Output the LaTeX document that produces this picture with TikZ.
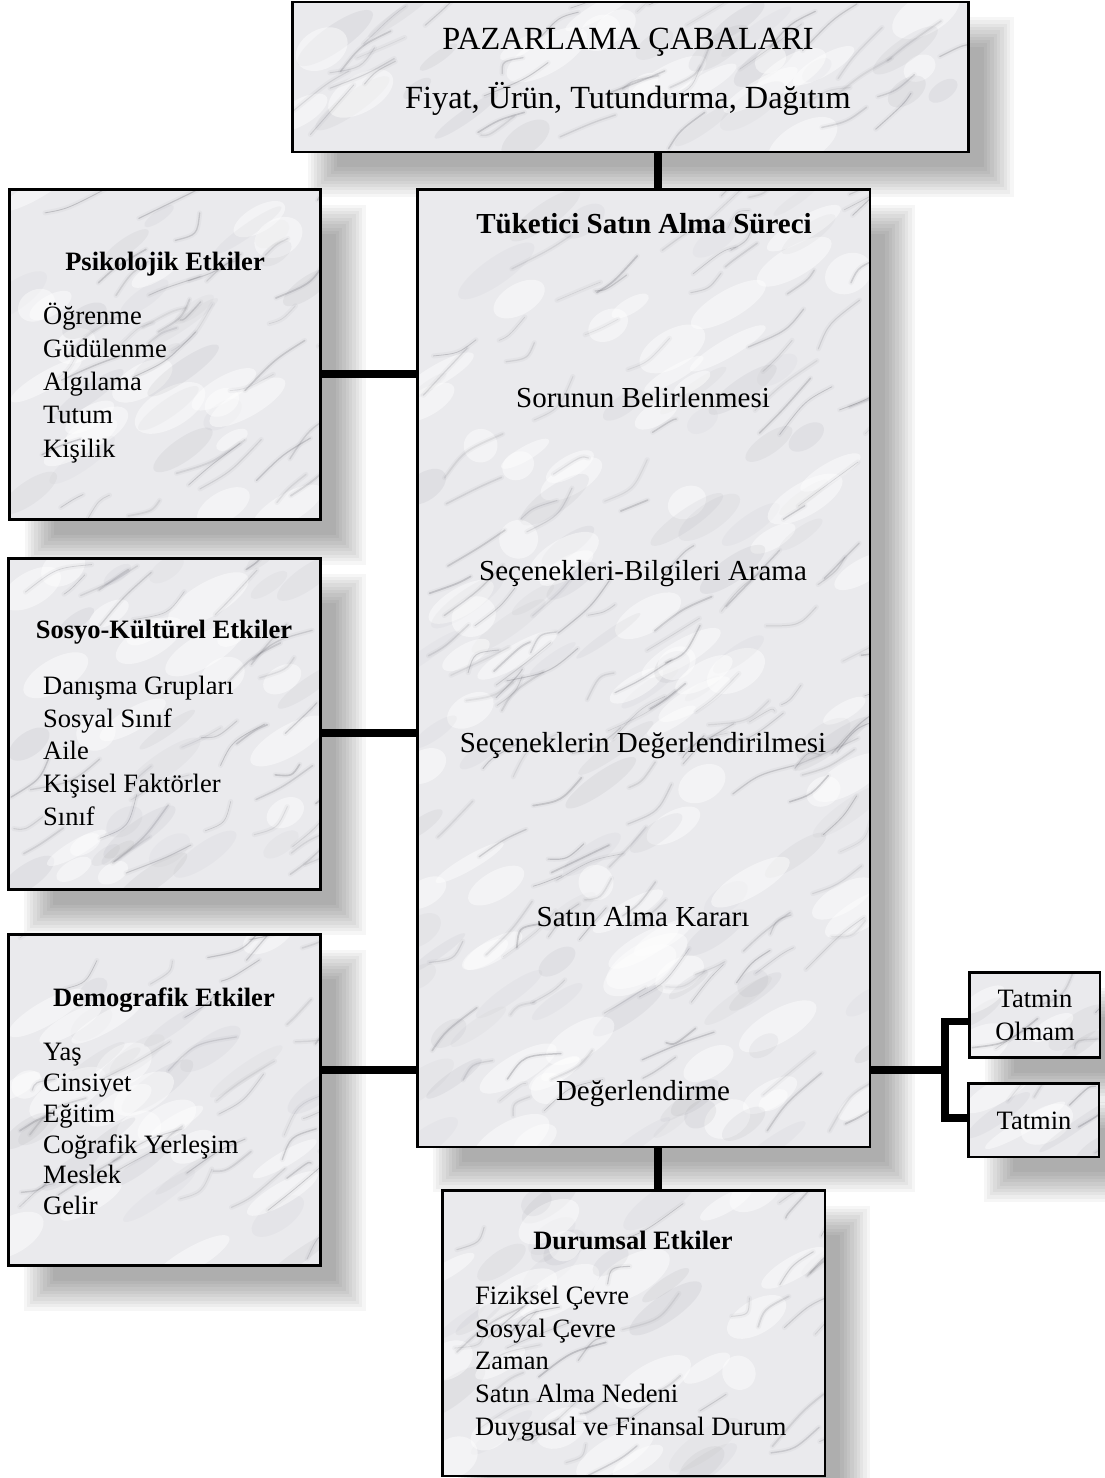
\documentclass[tikz,border=0pt]{standalone}
\usepackage{fontspec}
\setmainfont{Liberation Serif}
\usetikzlibrary{backgrounds,calc}

\definecolor{marblebase}{HTML}{EAEAED}
\definecolor{veingray}{HTML}{6A6A72}

% Marble texture: soft cloudy patches and thin diagonal veins inside a box
\newcommand\marbleveins[1]{%
  \pgfmathsetseed{#1}%
  \path let \p1=(path picture bounding box.south west),
            \p2=(path picture bounding box.north east) in
    \pgfextra{\pgfmathparse{\x1}\xdef\mxa{\pgfmathresult}%
              \pgfmathparse{\y1}\xdef\mya{\pgfmathresult}%
              \pgfmathparse{\x2-\x1}\xdef\mw{\pgfmathresult}%
              \pgfmathparse{\y2-\y1}\xdef\mh{\pgfmathresult}};
  \pgfmathtruncatemacro\nblot{(\mw/100)*(\mh/60)+2}%
  \foreach \k in {1,...,\nblot}{%
    \pgfmathsetmacro\sx{\mxa+rnd*\mw}%
    \pgfmathsetmacro\sy{\mya+rnd*\mh}%
    \pgfmathsetmacro\rx{16+rnd*30}%
    \pgfmathsetmacro\ry{5+rnd*9}%
    \pgfmathsetmacro\op{0.03+rnd*0.05}%
    \fill[veingray, opacity=\op]
      (\sx pt,\sy pt) ellipse [x radius=\rx pt, y radius=\ry pt, rotate=35];
    \pgfmathsetmacro\wx{\mxa+rnd*\mw}%
    \pgfmathsetmacro\wy{\mya+rnd*\mh}%
    \fill[white, opacity=0.45]
      (\wx pt,\wy pt) ellipse [x radius=\rx pt, y radius=1.4*\ry pt, rotate=30];
  }%
  \pgfmathtruncatemacro\nvein{(\mw/100)*(\mh/30)+2}%
  \foreach \k in {1,...,\nvein}{%
    \pgfmathsetmacro\sx{\mxa+rnd*\mw}%
    \pgfmathsetmacro\sy{\mya+rnd*\mh}%
    \pgfmathsetmacro\ang{20+rnd*30}%
    \pgfmathsetmacro\len{25+rnd*55}%
    \pgfmathsetmacro\ex{\sx+\len*cos(\ang)}%
    \pgfmathsetmacro\ey{\sy+\len*sin(\ang)}%
    \pgfmathsetmacro\cx{(\sx+\ex)/2+(rnd-0.5)*22}%
    \pgfmathsetmacro\cy{(\sy+\ey)/2+(rnd-0.5)*22}%
    \pgfmathsetmacro\lw{0.6+rnd*1.2}%
    \pgfmathsetmacro\op{0.10+rnd*0.22}%
    \draw[veingray, line width=5pt, opacity=0.05, line cap=round]
      (\sx pt,\sy pt) .. controls (\cx pt,\cy pt) .. (\ex pt,\ey pt);
    \draw[veingray, line width=\lw pt, opacity=\op, line cap=round]
      (\sx pt,\sy pt) .. controls (\cx pt,\cy pt) .. (\ex pt,\ey pt);
  }%
}

% Soft drop shadow below and right of a box
\newcommand\softshadow[1]{%
  \foreach \s in {0,...,9}{%
    \pgfmathsetmacro\shee{15-\s*3.3}%
    \pgfmathsetmacro\shax{30-\shee}\pgfmathsetmacro\shay{-30-\shee}%
    \pgfmathsetmacro\shbx{30+\shee}\pgfmathsetmacro\shby{-30+\shee}%
    \fill[black, opacity=0.036]
      ([xshift=\shax pt, yshift=\shay pt]#1.south west) rectangle
      ([xshift=\shbx pt, yshift=\shby pt]#1.north east);
  }%
}

\tikzset{
  marblebox/.style={draw=black, line width=2.8pt, fill=marblebase,
    inner sep=0pt, outer sep=0pt, anchor=north west,
    path picture={\marbleveins{#1}}},
  conn/.style={line width=7.5pt, line join=miter},
  boxtitle/.style={font=\bfseries\fontsize{26.5}{30}\selectfont, anchor=mid, inner sep=0pt},
  item/.style={font=\fontsize{26.5}{30}\selectfont, anchor=mid west, inner sep=0pt},
  stage/.style={font=\fontsize{29}{33}\selectfont, anchor=mid, inner sep=0pt},
  stagetitle/.style={font=\bfseries\fontsize{29}{33}\selectfont, anchor=mid, inner sep=0pt},
  headline/.style={font=\fontsize{32.3}{36}\selectfont, anchor=mid, inner sep=0pt},
  small/.style={font=\fontsize{26.5}{30}\selectfont, anchor=mid, inner sep=0pt},
}

\begin{document}
\begin{tikzpicture}[x=1pt, y=-1pt]
\useasboundingbox (0,0) rectangle (1105,1478);

% ---- boxes ----
\node[marblebox=3, minimum width=676pt, minimum height=150pt] (top) at (292.5,2) {};
\node[marblebox=5, minimum width=311pt, minimum height=330pt] (psik) at (9.5,189.5) {};
\node[marblebox=7, minimum width=312pt, minimum height=331pt] (sosyo) at (8.5,558.5) {};
\node[marblebox=9, minimum width=312pt, minimum height=331pt] (demog) at (8.5,934.5) {};
\node[marblebox=11, minimum width=452.5pt, minimum height=957.5pt] (main) at (417.5,189.5) {};
\node[marblebox=13, minimum width=382.5pt, minimum height=285.5pt] (durum) at (442.5,1190.5) {};
\node[marblebox=17, minimum width=130.5pt, minimum height=85pt] (tatA) at (969.5,972.5) {};
\node[marblebox=19, minimum width=130.5pt, minimum height=73.5pt] (tatB) at (968.5,1083.5) {};

% ---- texts ----
\node[headline] (topT1) at (628,47) {PAZARLAMA ÇABALARI};
\node[headline] (topT2) at (628,106) {Fiyat, Ürün, Tutundurma, Dağıtım};

\node[boxtitle] (psikT) at (165,268) {Psikolojik Etkiler};
\foreach \t [count=\i] in {Öğrenme, Güdülenme, Algılama, Tutum, Kişilik}
  \node[item] (psik-\i) at (43,{322+(\i-1)*33.2}) {\t};

\node[boxtitle] (sosyoT) at (164,636) {Sosyo-Kültürel Etkiler};
\foreach \t [count=\i] in {Danışma Grupları, Sosyal Sınıf, Aile, Kişisel Faktörler, Sınıf}
  \node[item] (sosyo-\i) at (43,{692+(\i-1)*32.8}) {\t};

\node[boxtitle] (demogT) at (164,1004) {Demografik Etkiler};
\foreach \t [count=\i] in {Yaş, Cinsiyet, Eğitim, Coğrafik Yerleşim, Meslek, Gelir}
  \node[item] (demog-\i) at (43,{1058+(\i-1)*30.9}) {\t};

\node[stagetitle] (mainT) at (644,231) {Tüketici Satın Alma Süreci};
\node[stage] (st1) at (643,405) {Sorunun Belirlenmesi};
\node[stage] (st2) at (643,578) {Seçenekleri-Bilgileri Arama};
\node[stage] (st3) at (643,750) {Seçeneklerin Değerlendirilmesi};
\node[stage] (st4) at (643,924) {Satın Alma Kararı};
\node[stage] (st5) at (643,1098) {Değerlendirme};

\node[boxtitle] (durumT) at (633,1247) {Durumsal Etkiler};
\foreach \t [count=\i] in {Fiziksel Çevre, Sosyal Çevre, Zaman, Satın Alma Nedeni, Duygusal ve Finansal Durum}
  \node[item] (durum-\i) at (475,{1302+(\i-1)*32.8}) {\t};

\node[small] (tatA1) at (1035,1005) {Tatmin};
\node[small] (tatA2) at (1035,1038) {Olmam};
\node[small] (tatB1) at (1034,1127) {Tatmin};

% ---- connectors ----
\coordinate (vx) at (658,0);
\coordinate (h1) at (0,374);
\coordinate (h2) at (0,733);
\coordinate (h3) at (0,1070);
\coordinate (fork) at (945,1070);
\coordinate (ya) at (0,1021.5);
\coordinate (yb) at (0,1118);

\draw[conn] (top.south -| vx) -- (main.north -| vx);
\draw[conn] (main.south -| vx) -- (durum.north -| vx);
\draw[conn] (psik.east |- h1) -- (main.west |- h1);
\draw[conn] (sosyo.east |- h2) -- (main.west |- h2);
\draw[conn] (demog.east |- h3) -- (main.west |- h3);
\draw[conn] (main.east |- fork) -- (fork);
\draw[conn] (tatA.west |- ya) -| (fork |- yb) -- (tatB.west |- yb);

% ---- page and shadows ----
\begin{scope}[on background layer]
  \fill[white] (0,0) rectangle (1105,1478);
  \foreach \n in {top,psik,sosyo,demog,main,durum,tatA,tatB}
    \softshadow{\n};
\end{scope}
\end{tikzpicture}
\end{document}
